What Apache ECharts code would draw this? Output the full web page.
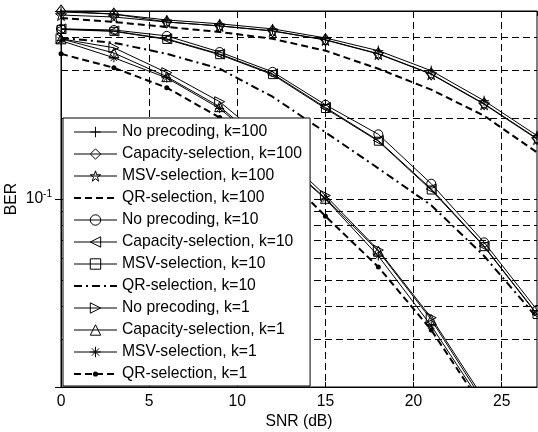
<!DOCTYPE html>
<html>
<head>
<meta charset="utf-8">
<script src="https://cdn.jsdelivr.net/npm/echarts@6/dist/echarts.min.js"></script>
<style>
html,body{margin:0;padding:0;background:#fff;}
#c{width:538px;height:432px;}
</style>
</head>
<body>
<div id="c"></div>
<script>
// ---- data ----
const snr = [0, 3, 6, 9, 12, 15, 18, 21, 24, 27];

const noPrec100 = [0.496, 0.487, 0.463, 0.448, 0.429, 0.397, 0.356, 0.300, 0.232, 0.172];
const capSel100 = [0.500, 0.487, 0.455, 0.440, 0.422, 0.391, 0.347, 0.292, 0.226, 0.168];
const msvSel100 = [0.483, 0.475, 0.455, 0.440, 0.421, 0.390, 0.346, 0.291, 0.225, 0.167];
const qrSel100  = [0.471, 0.455, 0.436, 0.418, 0.394, 0.356, 0.305, 0.255, 0.204, 0.149];

const noPrec10 = [0.429, 0.425, 0.404, 0.352, 0.297, 0.224, 0.174, 0.114, 0.0690, 0.0387];
const capSel10 = [0.429, 0.421, 0.394, 0.346, 0.292, 0.219, 0.165, 0.109, 0.0668, 0.0374];
const msvSel10 = [0.427, 0.420, 0.392, 0.344, 0.290, 0.217, 0.164, 0.108, 0.0665, 0.0372];
const qrSel10  = [0.397, 0.381, 0.3465, 0.305, 0.240, 0.177, 0.130, 0.0948, 0.0614, 0.0362];

const noPrec1 = [0.394, 0.365, 0.295, 0.230, 0.158, 0.103, 0.0646, 0.0362, 0.0180, 0.0093];
const capSel1 = [0.394, 0.349, 0.285, 0.2205, 0.151, 0.1006, 0.0640, 0.0356, 0.0175, 0.0090];
const msvSel1 = [0.388, 0.335, 0.282, 0.217, 0.149, 0.100, 0.0614, 0.0338, 0.0170, 0.0088];
const qrSel1  = [0.3465, 0.3075, 0.2594, 0.2008, 0.1356, 0.0863, 0.0559, 0.0326, 0.0165, 0.0085];

const seriesNames = [
  'No precoding, k=100', 'Capacity-selection, k=100', 'MSV-selection, k=100', 'QR-selection, k=100',
  'No precoding, k=10', 'Capacity-selection, k=10', 'MSV-selection, k=10', 'QR-selection, k=10',
  'No precoding, k=1', 'Capacity-selection, k=1', 'MSV-selection, k=1', 'QR-selection, k=1'
];
const seriesValues = [
  noPrec100, capSel100, msvSel100, qrSel100,
  noPrec10, capSel10, msvSel10, qrSel10,
  noPrec1, capSel1, msvSel1, qrSel1
];

const xTicks = [0, 5, 10, 15, 20, 25];
const yGridValues = [0.03, 0.04, 0.05, 0.06, 0.07, 0.08, 0.09, 0.1, 0.2, 0.3, 0.4];

// ---- styles ----
const FONT = 'Liberation Sans';
const FS = 15.7;
const PLUS = 'path://M0,-10L0,10M-10,0L10,0';
const STAR = 'path://M0,-10L2.23,-3.07L9.51,-3.09L3.61,1.17L5.88,8.09L0,3.8L-5.88,8.09L-3.61,1.17L-9.51,-3.09L-2.23,-3.07Z';
const ASTER = 'path://M0,-10L0,10M-10,0L10,0M-7,-7L7,7M-7,7L7,-7';
const DOT = 'path://M-10,-10M10,10M0,-5A5,5,0,1,1,0,5A5,5,0,1,1,0,-5Z';

const styles = [
  {symbol: PLUS, size: 10},
  {symbol: 'diamond', size: [9, 12]},
  {symbol: STAR, size: 11},
  {symbol: 'none', dash: [7, 4], width: 2},
  {symbol: 'circle', size: 9},
  {symbol: 'triangle', size: 10, rotate: 90},
  {symbol: 'rect', size: 8},
  {symbol: 'none', dash: [8, 4, 2, 4], width: 2},
  {symbol: 'triangle', size: 10, rotate: -90},
  {symbol: 'triangle', size: 10},
  {symbol: ASTER, size: 9},
  {symbol: DOT, size: 10, filled: true, dash: [7, 4], width: 2}
];

const markerStyle = st => ({
  color: st.filled ? '#000' : 'rgba(0,0,0,0)',
  borderColor: '#000',
  borderWidth: st.filled ? 0 : 1,
  opacity: st.symbol === 'none' ? 0 : 1
});

const series = seriesNames.map((name, i) => {
  const st = styles[i];
  return {
    name: name,
    type: 'line',
    data: snr.map((x, j) => [x, seriesValues[i][j]]),
    symbol: st.symbol === 'none' ? 'circle' : st.symbol,
    symbolSize: st.size || 6,
    symbolRotate: st.rotate || 0,
    showSymbol: st.symbol !== 'none',
    clip: true,
    z: 3,
    lineStyle: {color: '#000', width: st.width || 1, type: st.dash || 'solid'},
    itemStyle: Object.assign(markerStyle(st), {opacity: 1}),
    emphasis: {disabled: true}
  };
});

series.push({
  name: 'grid',
  type: 'line',
  data: [],
  z: 1,
  silent: true,
  markLine: {
    silent: true,
    symbol: 'none',
    label: {show: false},
    animation: false,
    lineStyle: {color: '#000', width: 1, type: [7, 4]},
    data: yGridValues.map(v => ({yAxis: v}))
  }
});

const legendData = seriesNames.map((name, i) => {
  const st = styles[i];
  return {
    name: name,
    lineStyle: {color: '#000', width: st.width || 1, type: st.dash || 'solid'},
    itemStyle: markerStyle(st)
  };
});

const isTenth = v => Math.abs(Math.log10(v) + 1) < 1e-6;

const chart = echarts.init(document.getElementById('c'), null, {renderer: 'canvas'});
chart.setOption({
  animation: false,
  backgroundColor: '#fff',
  textStyle: {fontFamily: FONT, color: '#000'},
  grid: {left: 61, right: 1, top: 11, bottom: 45, show: true, borderColor: '#000', borderWidth: 1,
    backgroundColor: 'rgba(0,0,0,0)', containLabel: false, outerBoundsMode: 'none'},
  legend: {
    data: legendData,
    orient: 'vertical',
    left: 63,
    top: 118,
    padding: [6, 8, 4, 10],
    itemWidth: 43,
    itemHeight: 13,
    itemGap: 6,
    backgroundColor: '#fff',
    borderColor: '#000',
    borderWidth: 1,
    borderRadius: 0,
    z: 10,
    textStyle: {fontFamily: FONT, fontSize: FS, color: '#000', lineHeight: 16},
    selectedMode: false
  },
  xAxis: [{
    type: 'value',
    min: 0, max: 27, interval: 5,
    name: 'SNR (dB)',
    nameLocation: 'middle',
    nameGap: 27,
    nameMoveOverlap: false,
    nameTextStyle: {fontFamily: FONT, fontSize: FS, color: '#000'},
    axisLine: {show: true, lineStyle: {color: '#000', width: 1}},
    axisTick: {show: true, inside: true, length: 5, lineStyle: {color: '#000'}},
    axisLabel: {fontFamily: FONT, fontSize: FS, color: '#000', margin: 7, showMaxLabel: false,
      formatter: v => (xTicks.indexOf(v) >= 0 ? String(v) : '')},
    splitLine: {show: true, showMinLine: false, showMaxLine: false, lineStyle: {color: '#000', width: 1, type: [7, 4]}}
  }, {
    type: 'value',
    position: 'top',
    min: 0, max: 27, interval: 5,
    axisLine: {show: true, lineStyle: {color: '#000', width: 1}},
    axisTick: {show: true, inside: true, length: 5, lineStyle: {color: '#000'}},
    axisLabel: {show: false},
    splitLine: {show: false}
  }],
  yAxis: [{
    type: 'log',
    logBase: 10,
    min: 0.02, max: 0.5,
    name: 'BER',
    nameLocation: 'middle',
    nameRotate: 90,
    nameGap: 41,
    nameMoveOverlap: false,
    nameTextStyle: {fontFamily: FONT, fontSize: FS, color: '#000'},
    axisLine: {show: true, lineStyle: {color: '#000', width: 1}},
    axisTick: {show: true, inside: true, length: 6, lineStyle: {color: '#000'}},
    axisLabel: {
      margin: 9,
      formatter: v => (isTenth(v) ? '{b|10}{s|-1}' : ''),
      rich: {
        b: {fontFamily: FONT, fontSize: FS, color: '#000'},
        s: {fontFamily: FONT, fontSize: 10, color: '#000', padding: [0, 0, 9, 0]}
      }
    },
    splitLine: {show: false}
  }, {
    type: 'log',
    logBase: 10,
    min: 0.02, max: 0.5,
    position: 'right',
    axisLine: {show: true, lineStyle: {color: '#000', width: 1}},
    axisTick: {show: true, inside: true, length: 6, lineStyle: {color: '#000'}},
    axisLabel: {show: false},
    splitLine: {show: false}
  }],
  series: series
});
</script>
</body>
</html>
